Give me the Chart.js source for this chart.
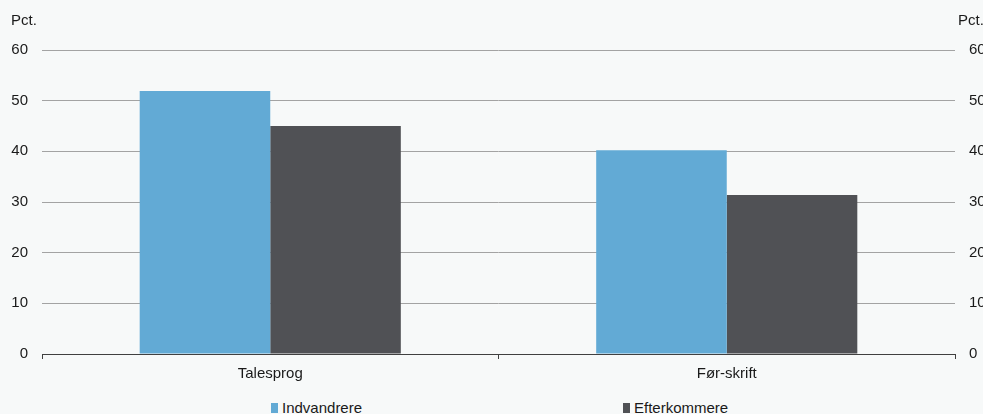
<!DOCTYPE html>
<html>
<head>
<meta charset="utf-8">
<script src="https://cdn.jsdelivr.net/npm/chart.js@4.4.1/dist/chart.umd.min.js"></script>
<style>
  html, body { margin:0; padding:0; background:#f7f9f9; }
  #wrap { position:relative; width:983px; height:414px; overflow:hidden; background:#f7f9f9;
          font-family:"Liberation Sans", Arial, sans-serif; color:#1a1a1a; }
  #c { position:absolute; left:0; top:0; }
  .unit { position:absolute; top:11px; font-size:15px; line-height:17px; }
  .leg { position:absolute; top:399px; font-size:15px; line-height:17px; display:flex; align-items:center; white-space:nowrap; }
  .sw { display:inline-block; width:7px; height:10px; margin-right:4px; margin-top:1px; }
</style>
</head>
<body>
<div id="wrap">
  <canvas id="c" width="983" height="392"></canvas>
  <div class="unit" style="left:11px;">Pct.</div>
  <div class="unit" style="left:958px;">Pct.</div>
  <div class="leg" style="left:271px;"><span class="sw" style="background:#62aad5"></span>Indvandrere</div>
  <div class="leg" style="left:623px;"><span class="sw" style="background:#505155"></span>Efterkommere</div>
</div>
<script>
const categories = ["Talesprog", "Før-skrift"];
const seriesNames = ["Indvandrere", "Efterkommere"];
const indvandrere = [51.9, 40.2];
const efterkommere = [45.0, 31.4];
const yTicks = [0, 10, 20, 30, 40, 50, 60];

const font = { family: "'Liberation Sans', Arial, sans-serif", size: 15 };

new Chart(document.getElementById('c'), {
  type: 'bar',
  data: {
    labels: categories,
    datasets: [
      { label: seriesNames[0], data: indvandrere, backgroundColor: '#62aad5', yAxisID: 'y' },
      { label: seriesNames[1], data: efterkommere, backgroundColor: '#505155', yAxisID: 'y' }
    ]
  },
  options: {
    responsive: false,
    animation: false,
    devicePixelRatio: 1,
    layout: { padding: { top: 50, left: 0, right: 0, bottom: 0 } },
    plugins: { legend: { display: false }, tooltip: { enabled: false } },
    datasets: { bar: { barPercentage: 1.0, categoryPercentage: 0.572 } },
    scales: {
      x: {
        offset: true,
        grid: { display: true, drawOnChartArea: false, offset: true, tickLength: 5, color: '#404040', lineWidth: 1 },
        border: { display: true, color: '#404040', width: 1 },
        ticks: { color: '#1a1a1a', font: font, padding: 6 },
        afterFit: s => { s.height = 38; }
      },
      y: {
        position: 'left',
        min: 0, max: 60,
        afterBuildTicks: s => { s.ticks = yTicks.map(v => ({ value: v })); },
        grid: { color: '#a3a3a3', lineWidth: 1, drawTicks: false },
        border: { display: false },
        ticks: { color: '#1a1a1a', font: font, padding: 14 },
        afterFit: s => { s.width = 42; }
      },
      y2: {
        position: 'right',
        min: 0, max: 60,
        afterBuildTicks: s => { s.ticks = yTicks.map(v => ({ value: v })); },
        grid: { display: false, drawTicks: false },
        border: { display: false },
        ticks: { color: '#1a1a1a', font: font, padding: 14 },
        afterFit: s => { s.width = 28; }
      }
    }
  }
});
</script>
</body>
</html>
